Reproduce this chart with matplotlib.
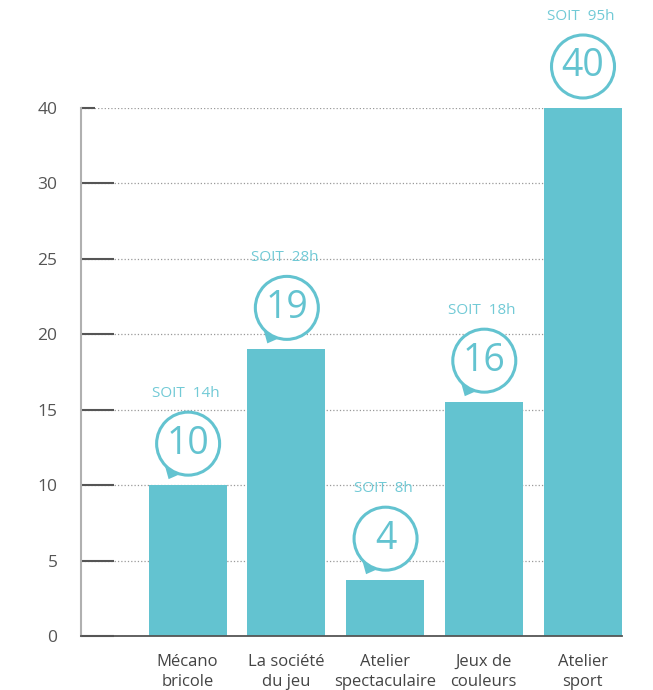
import numpy as np
import matplotlib
matplotlib.use('Agg')
import matplotlib.pyplot as plt
from matplotlib.patches import Circle, Polygon
from matplotlib.transforms import ScaledTranslation

# activity data
categories = ['Mécano\nbricole', 'La société\ndu jeu', 'Atelier\nspectaculaire',
              'Jeux de\ncouleurs', 'Atelier\nsport']
values = [10, 19, 3.7, 15.5, 40]
hours = ['14h', '28h', '8h', '18h', '95h']
yticks = [0, 5, 10, 15, 20, 25, 30, 40]

teal = '#63c3d0'
light_teal = '#72cad6'

plt.rcParams['font.family'] = ['Open Sans', 'DejaVu Sans']


# axis is compressed above 30 (30->40 takes half the room)
def fwd(y):
    y = np.asarray(y, dtype=float)
    return np.where(y <= 30, y, 30 + (y - 30) * 0.5)


def inv(y):
    y = np.asarray(y, dtype=float)
    return np.where(y <= 30, y, 30 + (y - 30) * 2.0)


fig = plt.figure(figsize=(6.53, 6.9), dpi=100)
ax = fig.add_axes([81/653, 1 - 636/690, (622 - 81)/653, (636 - 108)/690])
ax.set_yscale('function', functions=(fwd, inv))

x = range(len(categories))
ax.bar(x, values, width=0.79, color=teal, zorder=2)

ax.set_xlim(-1.08, 4.4)
ax.set_ylim(0, 40)
ax.set_yticks(yticks)
ax.set_yticklabels([str(t) for t in yticks])
ax.yaxis.set_minor_locator(matplotlib.ticker.NullLocator())
ax.set_xticks([])
ax.tick_params(axis='y', direction='in', length=24, width=1.5, color='#555555',
               labelsize=12.5, labelcolor='#555555', pad=17)
ax.yaxis.get_major_ticks()[-1].tick1line.set_markersize(10)
ax.grid(axis='y', linestyle=':', color='#999999', linewidth=0.9)
ax.set_axisbelow(True)

for s in ['top', 'right']:
    ax.spines[s].set_visible(False)
ax.spines['left'].set_color('#b0b0b0')
ax.spines['left'].set_linewidth(1.5)
ax.spines['bottom'].set_color('#555555')
ax.spines['bottom'].set_linewidth(1.3)

# category labels under the bars
for i, lab in enumerate(categories):
    ax.text(i, -1.2, lab, ha='center', va='top', fontsize=12, color='#444444',
            linespacing=1.35)

# speech-bubble value markers above each bar
for i, v in enumerate(values):
    tr = fig.dpi_scale_trans + ScaledTranslation(i, v, ax.transData)
    tail = Polygon([(-0.226, 0.19), (-0.083, 0.107), (-0.19, 0.06)], closed=True,
                   facecolor=teal, edgecolor='none', transform=tr, zorder=4)
    ax.add_patch(tail)
    circ = Circle((0.005, 0.415), 0.315, facecolor='white', edgecolor=teal,
                  linewidth=2.2, transform=tr, zorder=5, clip_on=False)
    ax.add_patch(circ)
    ax.text(0.005, 0.415, f'{round(v)}', transform=tr, ha='center', va='center',
            fontsize=27, fontweight='medium', color=teal, zorder=6)
    ax.text(-0.02, 0.92, f'SOIT  {hours[i]}', transform=tr, ha='center', va='center',
            fontsize=11, color=light_teal, zorder=6)

fig.savefig('out.png', dpi=100)
